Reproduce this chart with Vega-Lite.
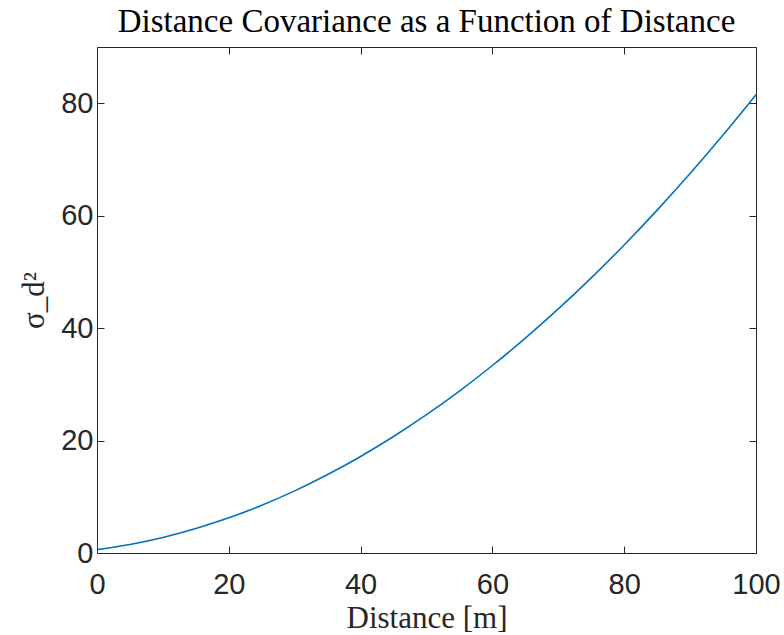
{
  "$schema": "https://vega.github.io/schema/vega-lite/v6.json",
  "autosize": "none",
  "width": 659,
  "height": 506,
  "padding": {"left": 97, "top": 47, "right": 28, "bottom": 82},
  "background": "white",
  "title": {
    "text": "Distance Covariance as a Function of Distance",
    "font": "Liberation Serif",
    "fontSize": 33,
    "fontWeight": "normal",
    "color": "#000000",
    "anchor": "middle",
    "frame": "group",
    "baseline": "alphabetic",
    "offset": 14,
    "dy": 32
  },
  "config": {
    "view": {"stroke": null},
    "axis": {
      "domainColor": "#262626",
      "tickColor": "#262626",
      "labelColor": "#262626",
      "labelFont": "Liberation Sans",
      "labelFontSize": 29,
      "labelFlush": false,
      "grid": false,
      "titleFont": "Liberation Serif",
      "titleFontSize": 31,
      "titleFontWeight": "normal",
      "titleColor": "#262626"
    }
  },
  "data": {
    "values": [
      {"d": 0, "v": 0.6},
      {"d": 5, "v": 1.52},
      {"d": 10, "v": 2.77},
      {"d": 15, "v": 4.35},
      {"d": 20, "v": 6.25},
      {"d": 25, "v": 8.49},
      {"d": 30, "v": 11.05},
      {"d": 35, "v": 13.95},
      {"d": 40, "v": 17.17},
      {"d": 45, "v": 20.72},
      {"d": 50, "v": 24.6},
      {"d": 55, "v": 28.81},
      {"d": 60, "v": 33.35},
      {"d": 65, "v": 38.22},
      {"d": 70, "v": 43.41},
      {"d": 75, "v": 48.94},
      {"d": 80, "v": 54.79},
      {"d": 85, "v": 60.98},
      {"d": 90, "v": 67.49},
      {"d": 95, "v": 74.33},
      {"d": 100, "v": 81.5}
    ]
  },
  "resolve": {"axis": {"x": "independent", "y": "independent"}},
  "layer": [
    {
      "mark": {"type": "line", "color": "#0072BD", "strokeWidth": 1.6, "interpolate": "monotone"},
      "encoding": {
        "x": {
          "field": "d", "type": "quantitative",
          "scale": {"domain": [0, 100], "nice": false},
          "axis": {"orient": "bottom", "values": [0, 20, 40, 60, 80, 100], "title": "Distance [m]", "tickSize": -7, "labelPadding": 24, "titlePadding": 4, "domainWidth": 1}
        },
        "y": {
          "field": "v", "type": "quantitative",
          "scale": {"domain": [0, 90], "nice": false},
          "axis": {"orient": "left", "values": [0, 20, 40, 60, 80], "title": "σ_d²", "tickSize": -7, "labelPadding": 11, "titlePadding": 10, "domainWidth": 1}
        }
      }
    },
    {
      "mark": {"type": "line", "opacity": 0},
      "encoding": {
        "x": {
          "field": "d", "type": "quantitative",
          "scale": {"domain": [0, 100], "nice": false},
          "axis": {"orient": "top", "values": [0, 20, 40, 60, 80, 100], "title": null, "labels": false, "tickSize": -7}
        },
        "y": {
          "field": "v", "type": "quantitative",
          "scale": {"domain": [0, 90], "nice": false},
          "axis": {"orient": "right", "values": [0, 20, 40, 60, 80], "title": null, "labels": false, "tickSize": -7}
        }
      }
    }
  ]
}
